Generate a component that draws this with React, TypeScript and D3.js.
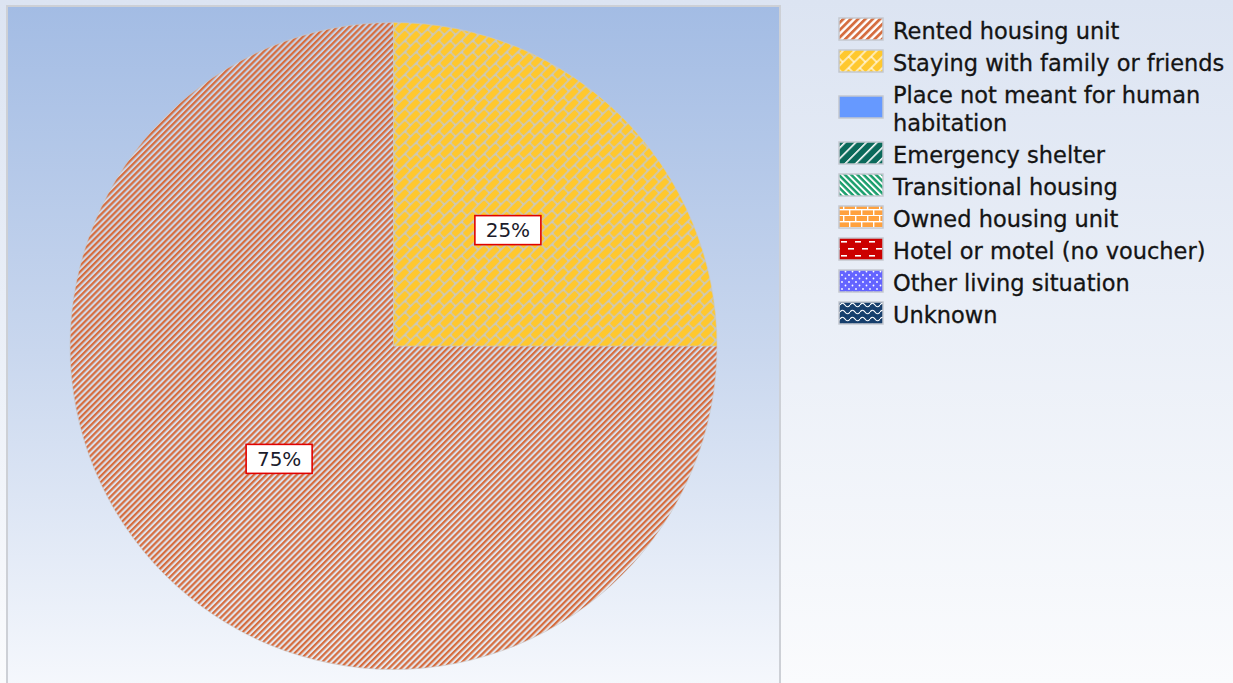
import React from "react";
import * as d3 from "d3";

const categories = [
  "Rented housing unit",
  "Staying with family or friends",
  "Place not meant for human habitation",
  "Emergency shelter",
  "Transitional housing",
  "Owned housing unit",
  "Hotel or motel (no voucher)",
  "Other living situation",
  "Unknown",
];
const legendLines = [
  ["Rented housing unit"],
  ["Staying with family or friends"],
  ["Place not meant for human", "habitation"],
  ["Emergency shelter"],
  ["Transitional housing"],
  ["Owned housing unit"],
  ["Hotel or motel (no voucher)"],
  ["Other living situation"],
  ["Unknown"],
];
const shares = [75, 25, 0, 0, 0, 0, 0, 0, 0];

const W = 1233;
const H = 683;
const FONT = "'DejaVu Sans', Verdana, sans-serif";

function Defs() {
  return (
    <defs>
      <linearGradient id="pageBg" x1="0" y1="0" x2="0" y2="1">
        <stop offset="0" stopColor="#dce4f2" />
        <stop offset="1" stopColor="#fafbfd" />
      </linearGradient>
      <linearGradient id="plotBg" x1="0" y1="0" x2="0" y2="1">
        <stop offset="0" stopColor="#a3bce4" />
        <stop offset="0.5" stopColor="#c9d7ee" />
        <stop offset="1" stopColor="#f7f9fd" />
      </linearGradient>
      {/* pie fills */}
      <pattern id="pie0" width={4.3} height={10} patternUnits="userSpaceOnUse" patternTransform="rotate(45)">
        <rect width={4.3} height={10} fill="rgba(222,222,228,0.6)" />
        <rect width={2.2} height={10} fill="#d56d3f" />
      </pattern>
      <pattern id="pie1" width={16} height={16} patternUnits="userSpaceOnUse" patternTransform="rotate(-45)">
        <rect width={16} height={16} fill="#c8c8c4" />
        <rect x={0.7} y={0.7} width={14.6} height={6.6} rx={1.6} fill="#ffc82e" />
        <rect x={-7.3} y={8.7} width={14.6} height={6.6} rx={1.6} fill="#ffc82e" />
        <rect x={8.7} y={8.7} width={14.6} height={6.6} rx={1.6} fill="#ffc82e" />
      </pattern>
      {/* legend swatches */}
      <pattern id="sw0" width={5.2} height={10} patternUnits="userSpaceOnUse" patternTransform="rotate(45)">
        <rect width={5.2} height={10} fill="#ffffff" />
        <rect width={2.8} height={10} fill="#d56d3f" />
      </pattern>
      <pattern id="sw1" width={16} height={16} patternUnits="userSpaceOnUse" patternTransform="rotate(-45)">
        <rect width={16} height={16} fill="#ffffff" />
        <rect x={0.6} y={0.6} width={14.8} height={6.8} fill="#ffc82e" />
        <rect x={-7.4} y={8.6} width={14.8} height={6.8} fill="#ffc82e" />
        <rect x={8.6} y={8.6} width={14.8} height={6.8} fill="#ffc82e" />
      </pattern>
      <pattern id="sw2" width={10} height={10} patternUnits="userSpaceOnUse">
        <rect width={10} height={10} fill="#6699ff" />
      </pattern>
      <pattern id="sw3" width={7.5} height={10} patternUnits="userSpaceOnUse" patternTransform="rotate(45)">
        <rect width={7.5} height={10} fill="#0b6a5b" />
        <rect width={1.6} height={10} fill="#ffffff" />
      </pattern>
      <pattern id="sw4" width={4.4} height={10} patternUnits="userSpaceOnUse" patternTransform="rotate(-45)">
        <rect width={4.4} height={10} fill="#1a9e6c" />
        <rect width={1.9} height={10} fill="#ffffff" />
      </pattern>
      <pattern id="sw5" width={12} height={12} patternUnits="userSpaceOnUse">
        <rect width={12} height={12} fill="#ffa13e" />
        <rect y={5} width={12} height={1.4} fill="#ffffff" />
        <rect y={11} width={12} height={1.4} fill="#ffffff" />
        <rect x={3} y={0} width={1.4} height={5} fill="#ffffff" />
        <rect x={9} y={6} width={1.4} height={5} fill="#ffffff" />
      </pattern>
      <pattern id="sw6" width={14} height={14} patternUnits="userSpaceOnUse">
        <rect width={14} height={14} fill="#cc0000" />
        <rect x={1} y={3} width={6} height={1.6} fill="#ffffff" />
        <rect x={8} y={10} width={6} height={1.6} fill="#ffffff" />
      </pattern>
      <pattern id="sw7" width={7} height={7} patternUnits="userSpaceOnUse">
        <rect width={7} height={7} fill="#6464ff" />
        <circle cx={2} cy={2} r={0.9} fill="#ffffff" />
        <circle cx={5.5} cy={5.5} r={0.9} fill="#ffffff" />
      </pattern>
      <pattern id="sw8" width={10} height={7} patternUnits="userSpaceOnUse">
        <rect width={10} height={7} fill="#163e6c" />
        <path d="M0,4 Q2.5,0.5 5,4 T10,4" fill="none" stroke="#ffffff" strokeWidth={1.2} />
      </pattern>
    </defs>
  );
}

export default function App() {
  const cx = 393.5;
  const cy = 346;
  const r = 323.5;

  const pie = d3
    .pie<number>()
    .sort(null)
    .value((d) => d)
    .startAngle(Math.PI / 2)
    .endAngle(Math.PI / 2 + 2 * Math.PI);
  const arcs = pie(shares);
  const arc = d3.arc<d3.PieArcDatum<number>>().innerRadius(0).outerRadius(r);
  const labelArc = d3.arc<d3.PieArcDatum<number>>().innerRadius(r * 0.5).outerRadius(r * 0.5);
  const total = d3.sum(shares);
  const fmt = (v: number) => `${Math.round((v / total) * 100)}%`;

  // legend layout
  const legendX = 839;
  const rowH = 32;
  const lineH = 28;
  let yCursor = 13;
  const legendRows = legendLines.map((lines, i) => {
    const h = rowH + (lines.length - 1) * lineH;
    const center = yCursor + h / 2;
    yCursor += h;
    return { lines, center, i };
  });

  return (
    <svg
      width={W}
      height={H}
      style={{ position: "absolute", left: 0, top: 0, display: "block" }}
      fontFamily={FONT}
    >
      <Defs />
      <rect x={0} y={0} width={W} height={H} fill="url(#pageBg)" />
      <rect x={7} y={6} width={773} height={H + 10} fill="url(#plotBg)" stroke="#cdd0d6" strokeWidth={2} />

      <g transform={`translate(${cx},${cy})`}>
        {arcs.map((a, i) =>
          a.value > 0 ? (
            <path key={categories[i]} d={arc(a) || ""} fill={`url(#pie${i})`} stroke="rgba(200,200,200,0.6)" strokeWidth={1} />
          ) : null
        )}
        {arcs.map((a, i) => {
          if (a.value <= 0) return null;
          const [lx, ly] = labelArc.centroid(a);
          return (
            <g key={"lbl" + i} transform={`translate(${lx},${ly - 1.5})`}>
              <rect x={-33} y={-14.5} width={66} height={29} fill="#ffffff" stroke="#e00000" strokeWidth={1.6} />
              <text textAnchor="middle" y={7} fontSize={20} fill="#1b1b2b">
                {fmt(a.value)}
              </text>
            </g>
          );
        })}
      </g>

      <g>
        {legendRows.map(({ lines, center, i }) => (
          <g key={categories[i]}>
            <rect
              x={legendX}
              y={center - 11}
              width={44}
              height={22}
              fill={`url(#sw${i})`}
              stroke="#c4c8cf"
              strokeWidth={1.5}
            />
            {lines.map((ln, j) => (
              <text
                key={j}
                x={893}
                y={center - ((lines.length - 1) * lineH) / 2 + j * lineH + 9.5}
                fontSize={22.5}
                fill="#141414"
                stroke="#141414"
                strokeWidth={0.3}
              >
                {ln}
              </text>
            ))}
          </g>
        ))}
      </g>
    </svg>
  );
}
